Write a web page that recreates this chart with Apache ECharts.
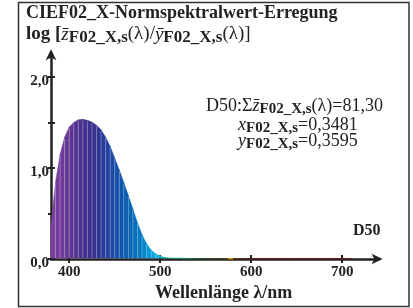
<!DOCTYPE html>
<html>
<head>
<meta charset="utf-8">
<script src="https://cdn.jsdelivr.net/npm/echarts@6/dist/echarts.min.js"></script>
<style>html,body{margin:0;padding:0;background:#fff}#c{width:413px;height:308px}</style>
</head>
<body>
<div id="c"></div>
<script>
// Data
var wavelengths = [380,385,390,395,400,405,410,415,420,425,430,435,440,445,450,455,460,465,470,475,480,485,490,495,500,505,510,515,520,525,530,535,540,545,550,555,560,565,570,575,580,585,590,595,600,605,610,615,620,625,630,635,640,645,650,655,660,665,670,675,680,685,690,695,700,705,710];
var values = [0.38,0.85,1.15,1.34,1.45,1.50,1.53,1.535,1.525,1.505,1.47,1.42,1.34,1.24,1.11,0.98,0.84,0.70,0.55,0.40,0.27,0.17,0.10,0.058,0.034,0.018,0.010,0.006,0.004,0.003,0.002,0.002,0.002,0.002,0.002,0.002,0.002,0.002,0.002,0.002,0.002,0.002,0.002,0.002,0.002,0.002,0.002,0.002,0.002,0.002,0.002,0.002,0.002,0.002,0.002,0.002,0.002,0.002,0.002,0.002,0.002,0.002,0.002,0.002,0.002,0.002,0.002];
var xTicks = [400,500,600,700];
var yLabelTicks = [0,1,2];
var yTicks = [0,0.5,1,1.5,2];
// styles: colour of each 5 nm band
var bandColors = ['#7d3f9f','#763d9c','#6e3a99','#663896','#5d3593','#553391','#4d318f','#45308e','#3e2f8d','#373190','#313596','#2a3b9b','#2443a0','#1e4aa4','#174fa8','#1156ab','#0b5daf','#0866b4','#076fba','#077ac1','#0787ca','#0896d4','#0aa6de','#12b4dc','#14b2c0','#12a9a0','#109e84','#0f936c','#108a58','#16804a','#1d7040','#23643a','#285a32','#2c502c','#304828','#384424','#404020','#4a4020','#5a4a1c','#f0a010','#5a3a18','#553018','#502a18','#4c2418','#6b1a1a','#6b1a1a','#6b1a1a','#6b1a1a','#6b1a1a','#6b1a1a','#6b1a1a','#6b1a1a','#6b1a1a','#6b1a1a','#6b1a1a','#6b1a1a','#6b1a1a','#6b1a1a','#6b1a1a','#6b1a1a','#6b1a1a','#6b1a1a','#6b1a1a','#6b1a1a','#6b1a1a','#6b1a1a'];

var serif = '"Liberation Serif", "Times New Roman", serif';
var data = [];
for (var i = 0; i < wavelengths.length - 1; i++) {
  data.push([wavelengths[i], values[i], wavelengths[i+1], values[i+1], i]);
}
function fmt(v){ return v.toFixed(1).replace('.', ','); }

var chart = echarts.init(document.getElementById('c'), null, {renderer:'canvas'});
var subStyle = {fontFamily: serif, fontSize: 15, fontWeight: 'bold', fill: '#222', padding: [7,0,0,0]};
var nStyle = {fontFamily: serif, fontSize: 18, fill: '#222'};
var iStyle = {fontFamily: serif, fontSize: 18, fontStyle: 'italic', fill: '#222'};
var hSub = {fontFamily: serif, fontSize: 17, fontWeight: 'bold', fill: '#222', padding: [7,0,0,0]};
var hN = {fontFamily: serif, fontSize: 19, fill: '#222'};
var hI = {fontFamily: serif, fontSize: 19, fontStyle: 'italic', fill: '#222'};
var hB = {fontFamily: serif, fontSize: 19, fontWeight: 'bold', fill: '#222'};

chart.setOption({
  animation: false,
  grid: {left: 51, right: 34.4, top: 53.3, bottom: 49},
  xAxis: [{
    type: 'value', min: 380, max: 740,
    axisLine: {show: true, lineStyle: {color: '#222', width: 2.5}, symbol: ['none','arrow'], symbolSize: [8, 11], symbolOffset: [0, 4]},
    axisTick: {show: true, customValues: xTicks, length: 4, lineStyle: {color: '#222', width: 2}},
    axisLabel: {show: true, customValues: xTicks, margin: 6, fontFamily: serif, fontWeight: 'bold', fontSize: 15, color: '#222'},
    splitLine: {show: false}
  },{
    type: 'value', min: 380, max: 740, position: 'bottom',
    axisLine: {show: false},
    axisTick: {show: true, inside: true, customValues: xTicks, length: 4, lineStyle: {color: '#222', width: 2}},
    axisLabel: {show: false}, splitLine: {show: false}
  }],
  yAxis: [{
    type: 'value', min: 0, max: 2.26,
    axisLine: {show: true, lineStyle: {color: '#222', width: 2.5}, symbol: ['none','arrow'], symbolSize: [8, 11], symbolOffset: [0, 4]},
    axisTick: {show: true, customValues: yTicks, length: 3, lineStyle: {color: '#222', width: 2}},
    axisLabel: {show: true, customValues: yLabelTicks, margin: 2, verticalAlign: 'top', lineHeight: 8, formatter: fmt, fontFamily: serif, fontWeight: 'bold', fontSize: 15, color: '#222'},
    splitLine: {show: false}
  },{
    type: 'value', min: 0, max: 2.26, position: 'left',
    axisLine: {show: false},
    axisTick: {show: true, inside: true, customValues: yTicks, length: 4, lineStyle: {color: '#222', width: 2}},
    axisLabel: {show: false}, splitLine: {show: false}
  }],
  series: [{
    type: 'custom',
    xAxisIndex: 0, yAxisIndex: 0,
    z: 5,
    clip: false,
    renderItem: function (params, api) {
      var x0 = api.value(0), y0 = api.value(1), x1 = api.value(2), y1 = api.value(3), idx = api.value(4);
      var color = bandColors[idx];
      var p0 = api.coord([x0, 0]), p1 = api.coord([x0, y0]), p2 = api.coord([x1, y1]), p3 = api.coord([x1, 0]);
      if (y0 < 0.01 && y1 < 0.01 && x0 >= 525) {
        return {type: 'line', shape: {x1: p0[0], y1: p0[1] - 0.3, x2: p3[0], y2: p3[1] - 0.3}, style: {stroke: color, lineWidth: 1.3}};
      }
      var children = [{
        type: 'polygon', shape: {points: [[p0[0], p0[1]-1], p1, p2, [p3[0], p3[1]-1]]},
        style: {fill: color, stroke: color, lineWidth: 0.4}
      }];
      if (idx > 0 && y0 > 0.05) {
        children.push({type: 'line', shape: {x1: p0[0], y1: p0[1]-1, x2: p1[0], y2: p1[1]+1}, style: {stroke: 'rgba(255,255,255,0.4)', lineWidth: 0.7}, z2: 10});
      }
      return {type: 'group', children: children};
    },
    data: data
  }],
  graphic: [
    {type: 'rect', shape: {x: 18.5, y: 2.5, width: 390.5, height: 304}, style: {fill: 'none', stroke: '#333', lineWidth: 1.5}, z: 0, silent: true},
    {type: 'text', left: 26, top: 4, style: {text: 'CIEF02_X-Normspektralwert-Erregung', font: 'bold 18px ' + serif, fill: '#222'}},
    {type: 'text', left: 26, top: 25, style: {
      text: '{b|log [}{i|z\u0304}{s|F02_X,s}{n|(\u03bb)/}{i|y\u0304}{s|F02_X,s}{n|(\u03bb)]}',
      rich: {b: hB, i: hI, s: hSub, n: hN}
    }},
    {type: 'text', left: 206, top: 97, style: {
      text: '{n|D50:\u03a3}{i|z\u0304}{s|F02_X,s}{n|(\u03bb)=81,30}',
      rich: {i: iStyle, s: subStyle, n: nStyle}
    }},
    {type: 'text', left: 238, top: 116, style: {
      text: '{i|x}{s|F02_X,s}{n|=0,3481}',
      rich: {i: iStyle, s: subStyle, n: nStyle}
    }},
    {type: 'text', left: 238, top: 132, style: {
      text: '{i|y}{s|F02_X,s}{n|=0,3595}',
      rich: {i: iStyle, s: subStyle, n: nStyle}
    }},
    {type: 'text', left: 353, top: 223, style: {text: 'D50', font: 'bold 16px ' + serif, fill: '#222'}},
    {type: 'text', left: 155, top: 284, style: {text: 'Wellenl\u00e4nge \u03bb/nm', font: 'bold 18px ' + serif, fill: '#222'}}
  ]
});
</script>
</body>
</html>
